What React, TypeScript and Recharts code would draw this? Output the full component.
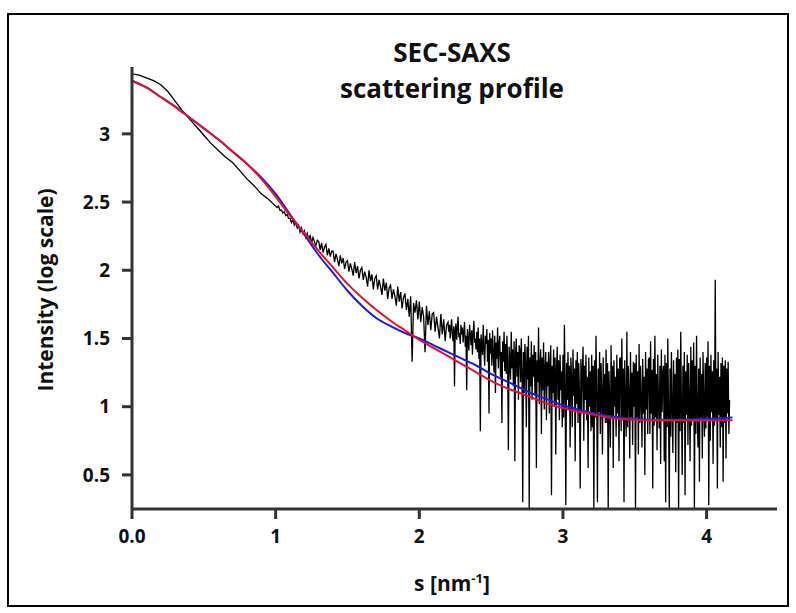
import React from 'react';
import { LineChart, Line, XAxis, YAxis } from 'recharts';

// low-s part of the measured curve (explicit s / intensity pairs)
const smoothS = [0, 0.05, 0.1, 0.15, 0.2, 0.25, 0.3, 0.35, 0.4, 0.45, 0.5, 0.55, 0.6, 0.65, 0.7, 0.75, 0.8, 0.85, 0.9, 0.95];
const smoothI = [3.44, 3.43, 3.41, 3.39, 3.36, 3.31, 3.24, 3.17, 3.11, 3.05, 2.99, 2.93, 2.88, 2.83, 2.79, 2.73, 2.67, 2.62, 2.56, 2.52];

// mid-s part, sampled every 0.01 nm^-1 from s = 1.00
const midStart = 1.0;
const midStep = 0.01;
const midI = [
  2.47, 2.46, 2.47, 2.44, 2.44, 2.42, 2.43, 2.40, 2.41, 2.38,
  2.38, 2.35, 2.37, 2.33, 2.35, 2.31, 2.33, 2.28, 2.31, 2.27,
  2.29, 2.24, 2.27, 2.22, 2.26, 2.20, 2.24, 2.21, 2.18, 2.22,
  2.21, 2.15, 2.20, 2.13, 2.17, 2.19, 2.11, 2.16, 2.10, 2.14,
  2.14, 2.06, 2.12, 2.08, 2.03, 2.11, 2.05, 2.09, 2.01, 2.06,
  2.07, 1.99, 2.05, 2.01, 1.96, 2.06, 1.98, 2.03, 1.94, 2.00,
  2.02, 1.93, 1.99, 1.95, 1.88, 2.00, 1.92, 1.97, 1.86, 1.94,
  1.96, 1.86, 1.93, 1.88, 1.82, 1.94, 1.85, 1.91, 1.79, 1.87,
  1.89, 1.79, 1.86, 1.81, 1.74, 1.88, 1.77, 1.84, 1.72, 1.80,
  1.83, 1.71, 1.79, 1.66, 1.81, 1.33, 1.76, 1.69, 1.78, 1.64,
  1.77, 1.62, 1.73, 1.66, 1.40, 1.74, 1.60, 1.70, 1.56, 1.68,
  1.69, 1.55, 1.66, 1.58, 1.50, 1.68, 1.53, 1.64, 1.48, 1.60,
];

// high-s noisy part, sampled every 0.005 nm^-1 from s = 2.20
const highStart = 2.2;
const highStep = 0.005;
const highI = [
  1.62, 1.55, 1.60, 1.50, 1.58, 1.64, 1.52, 1.48, 1.59, 1.15, 1.56, 1.61, 1.49, 1.57, 1.66, 1.51, 1.54, 1.46, 1.60, 1.53,
  1.58, 1.47, 1.55, 1.62, 1.44, 1.52, 1.12, 1.57, 1.49, 1.41, 1.60, 1.53, 1.45, 1.56, 1.38, 1.54, 1.63, 1.47, 1.50, 1.42,
  1.55, 1.40, 1.58, 1.35, 1.50, 0.82, 1.53, 1.44, 1.38, 1.60, 1.42, 1.30, 1.52, 1.46, 1.57, 1.33, 1.49, 0.95, 1.54, 1.39,
  1.50, 1.30, 1.56, 1.38, 1.25, 1.52, 1.10, 1.47, 1.35, 1.58, 1.28, 1.45, 1.52, 1.22, 1.40, 0.88, 1.48, 1.33, 1.55, 1.26,
  1.46, 1.24, 1.52, 1.30, 0.68, 1.44, 1.35, 1.20, 1.55, 1.28, 1.42, 1.15, 1.48, 0.60, 1.38, 1.50, 1.22, 1.40, 1.05, 1.45,
  1.42, 1.18, 1.50, 1.25, 0.30, 1.40, 1.10, 1.46, 1.32, 0.85, 1.44, 1.20, 1.52, 0.25, 1.36, 1.15, 1.48, 1.05, 1.38, 1.22,
  1.45, 1.08, 1.40, 0.55, 1.34, 1.18, 1.58, 1.02, 1.30, 1.42, 0.80, 1.36, 1.12, 1.47, 0.98, 1.28, 1.40, 0.90, 1.33, 1.15,
  1.40, 0.95, 1.32, 1.45, 0.35, 1.30, 1.10, 1.42, 1.00, 1.36, 0.65, 1.28, 1.44, 1.05, 1.34, 0.90, 1.38, 1.12, 1.26, 0.85,
  1.38, 0.92, 1.60, 1.15, 0.28, 1.32, 1.05, 1.40, 0.98, 1.30, 0.70, 1.36, 1.20, 0.85, 1.42, 1.08, 1.28, 0.60, 1.34, 1.02,
  1.40, 0.88, 1.32, 1.10, 0.40, 1.35, 0.95, 1.28, 1.44, 0.75, 1.30, 1.05, 1.38, 0.90, 1.22, 0.55, 1.36, 1.00, 1.26, 0.82,
  1.38, 0.85, 1.30, 0.25, 1.34, 0.92, 1.52, 1.08, 0.30, 1.28, 0.96, 1.40, 0.80, 1.32, 1.10, 0.65, 1.36, 0.94, 1.24, 0.88,
  1.42, 0.88, 1.32, 0.25, 1.26, 1.05, 0.70, 1.45, 0.92, 1.30, 0.55, 1.34, 1.00, 1.22, 0.78, 1.38, 0.95, 1.28, 0.60, 1.35,
  1.36, 0.82, 1.50, 0.90, 1.28, 0.30, 1.34, 1.02, 0.78, 1.55, 0.85, 1.30, 1.08, 0.62, 1.40, 0.92, 1.25, 0.72, 1.33, 1.00,
  1.32, 0.25, 1.38, 0.92, 1.26, 0.65, 1.46, 0.88, 1.30, 1.05, 0.70, 1.35, 0.95, 1.22, 0.50, 1.40, 0.98, 1.28, 0.80, 1.34,
  1.36, 0.80, 1.48, 0.95, 1.27, 0.40, 1.35, 0.86, 1.52, 0.92, 1.24, 0.68, 1.38, 1.02, 0.84, 1.30, 0.58, 1.42, 0.96, 1.25,
  1.30, 0.60, 1.38, 0.30, 1.32, 0.85, 1.50, 0.94, 0.25, 1.28, 0.78, 1.40, 1.00, 0.66, 1.34, 0.90, 1.24, 0.52, 1.36, 0.88,
  1.42, 0.25, 1.35, 0.82, 1.55, 0.98, 0.50, 1.30, 0.88, 1.40, 0.35, 1.26, 0.94, 1.38, 0.72, 1.32, 1.05, 0.60, 1.44, 0.86,
  1.34, 0.90, 1.47, 0.25, 1.30, 0.80, 1.52, 0.96, 0.70, 1.28, 0.45, 1.36, 0.92, 1.24, 0.62, 1.40, 1.00, 0.78, 1.32, 0.84,
  1.36, 0.92, 1.48, 0.28, 1.30, 0.75, 1.38, 0.96, 1.26, 0.58, 1.34, 0.86, 1.93, 0.90, 1.28, 0.40, 1.40, 0.94, 1.22, 0.70,
  1.32, 0.85, 1.36, 0.45, 1.30, 0.88, 1.34, 0.62, 1.28, 0.95, 1.33, 0.80, 1.05,
];

// model fits
const fitS = [0, 0.1, 0.2, 0.3, 0.4, 0.5, 0.6, 0.7, 0.8, 0.9, 1.0, 1.1, 1.2, 1.3, 1.4, 1.5, 1.6, 1.7, 1.8, 1.9, 2.0, 2.1, 2.2, 2.3, 2.4, 2.5, 2.6, 2.7, 2.8, 2.9, 3.0, 3.1, 3.2, 3.3, 3.4, 3.5, 3.6, 3.8, 4.0, 4.18];
const redFit = [3.39, 3.34, 3.27, 3.2, 3.12, 3.04, 2.96, 2.87, 2.78, 2.67, 2.54, 2.4, 2.27, 2.14, 2.02, 1.9, 1.8, 1.71, 1.63, 1.56, 1.49, 1.43, 1.37, 1.31, 1.25, 1.19, 1.14, 1.1, 1.06, 1.02, 0.99, 0.965, 0.945, 0.925, 0.91, 0.905, 0.9, 0.9, 0.9, 0.9];
const blueFit = [3.39, 3.34, 3.27, 3.2, 3.12, 3.04, 2.96, 2.87, 2.78, 2.68, 2.56, 2.41, 2.26, 2.11, 1.98, 1.85, 1.74, 1.65, 1.59, 1.54, 1.5, 1.45, 1.4, 1.35, 1.3, 1.24, 1.19, 1.14, 1.09, 1.05, 1.01, 0.98, 0.955, 0.935, 0.92, 0.91, 0.905, 0.905, 0.91, 0.92];

const xTicks = [0, 1, 2, 3, 4];
const yTicks = [0.5, 1, 1.5, 2, 2.5, 3];

const measured = [
  ...smoothS.map((s, i) => ({ s, v: smoothI[i] })),
  ...midI.map((v, i) => ({ s: +(midStart + i * midStep).toFixed(3), v })),
  ...highI.map((v, i) => ({ s: +(highStart + i * highStep).toFixed(3), v })),
];
const redData = fitS.map((s, i) => ({ s, v: redFit[i] }));
const blueData = fitS.map((s, i) => ({ s, v: blueFit[i] }));

const font = '"Open Sans", "Noto Sans", sans-serif';
const tickStyle = { fill: '#111', fontSize: 19, fontWeight: 700, fontFamily: font };
const axisLine = { stroke: '#333', strokeWidth: 3 };

const App: React.FC = () => {
  return (
    <div style={{ position: 'absolute', left: 0, top: 0, width: 796, height: 613, background: '#fff', fontFamily: font }}>
      <div
        style={{
          position: 'absolute', left: 7, top: 13, width: 782, height: 594,
          border: '2px solid #000', boxSizing: 'border-box',
        }}
      />
      <LineChart width={796} height={613} margin={{ top: 67, right: 19, left: 0, bottom: 0 }}>
        <XAxis
          type="number"
          dataKey="s"
          domain={[0, 4.49]}
          ticks={xTicks}
          allowDataOverflow
          height={104}
          tickSize={10}
          tickMargin={11}
          tickFormatter={(v: number) => (v === 0 ? '0.0' : String(v))}
          tick={tickStyle}
          axisLine={axisLine}
          tickLine={axisLine}
        />
        <YAxis
          type="number"
          dataKey="v"
          domain={[0.25, 3.49]}
          ticks={yTicks}
          allowDataOverflow
          width={132}
          tickSize={10}
          tickMargin={12}
          tick={tickStyle}
          axisLine={axisLine}
          tickLine={axisLine}
        />
        <Line data={measured} dataKey="v" stroke="#000" strokeWidth={1.3} dot={false} isAnimationActive={false} type="linear" />
        <Line data={blueData} dataKey="v" stroke="#1a1ae6" strokeWidth={2} dot={false} isAnimationActive={false} type="monotone" />
        <Line data={redData} dataKey="v" stroke="#e8102a" strokeWidth={2} dot={false} isAnimationActive={false} type="monotone" />
      </LineChart>
      <div
        style={{
          position: 'absolute', left: 452, top: 34, transform: 'translateX(-50%)',
          textAlign: 'center', fontSize: 26, lineHeight: '36px', fontWeight: 700, color: '#111', whiteSpace: 'nowrap',
        }}
      >
        SEC-SAXS<br />scattering profile
      </div>
      <div
        style={{
          position: 'absolute', left: 45, top: 290, transform: 'translate(-50%, -50%) rotate(-90deg)',
          fontSize: 21, fontWeight: 700, color: '#111', whiteSpace: 'nowrap',
        }}
      >
        Intensity (log scale)
      </div>
      <div
        style={{
          position: 'absolute', left: 452, top: 583, transform: 'translate(-50%, -50%)',
          fontSize: 21, fontWeight: 700, color: '#111', whiteSpace: 'nowrap',
        }}
      >
        s [nm<sup style={{ fontSize: 13 }}>-1</sup>]
      </div>
    </div>
  );
};

export default App;
